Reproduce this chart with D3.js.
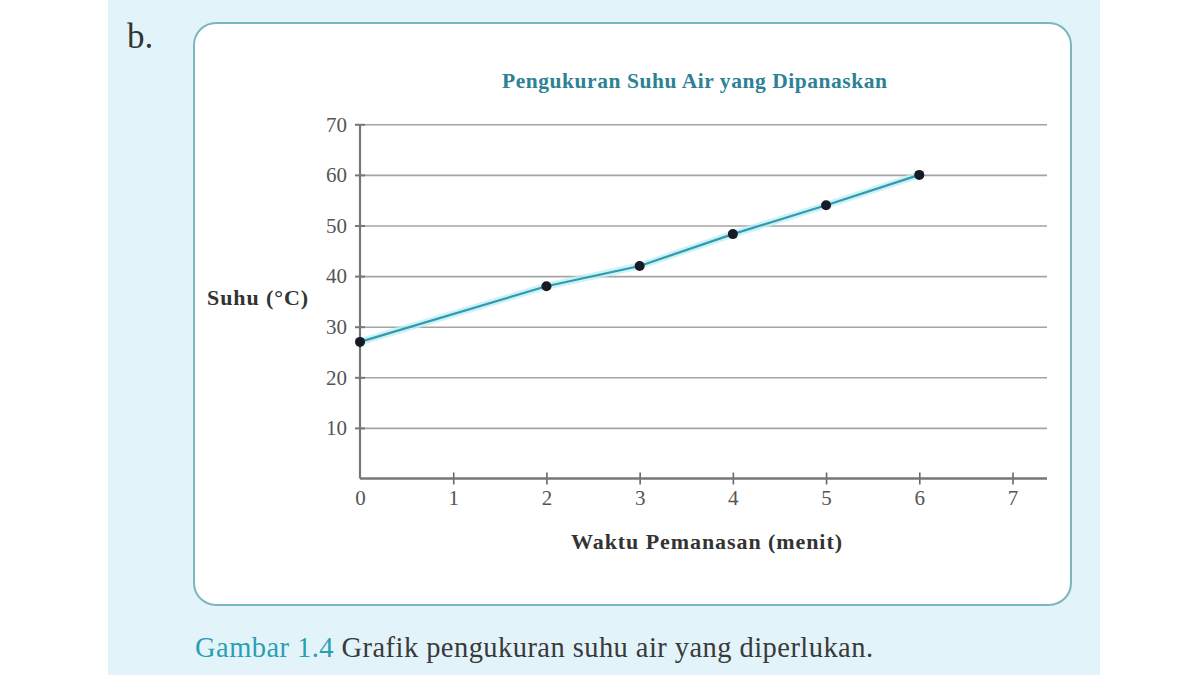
<!DOCTYPE html>
<html>
<head>
<meta charset="utf-8">
<script src="https://cdn.jsdelivr.net/npm/d3@7"></script>
<style>
  body { margin: 0; background: #fff; }
  svg { display: block; }
</style>
</head>
<body>
<svg id="chart" width="1200" height="675"></svg>
<script>
// data
const waktu = [0, 2, 3, 4, 5, 6];
const suhu = [27, 38, 42, 48.3, 54, 60];
const yTicks = [10, 20, 30, 40, 50, 60, 70];
const xTicks = [0, 1, 2, 3, 4, 5, 6, 7];

const svg = d3.select('#chart');
const serif = '"Liberation Serif", "DejaVu Serif", serif';

// page backdrop
svg.append('rect').attr('x', 108).attr('y', 0).attr('width', 992).attr('height', 675)
  .style('fill', '#e2f4fa');
svg.append('rect').attr('x', 194).attr('y', 23).attr('width', 877).attr('height', 582)
  .attr('rx', 22).attr('ry', 22)
  .style('fill', '#fff').style('stroke', '#7bb7bd').style('stroke-width', 2);

svg.append('text').attr('x', 127).attr('y', 48).text('b.')
  .style('font-family', serif).style('font-size', '35px').style('fill', '#333');

const x = d3.scaleLinear().domain([0, 7]).range([360, 1012.5]);
const y = d3.scaleLinear().domain([0, 70]).range([478.5, 124.3]);
const gridEnd = 1047;

// grid lines
svg.append('g').attr('transform', `translate(${x(0)},0)`)
  .call(d3.axisLeft(y).tickValues(yTicks).tickSize(-(gridEnd - x(0))).tickFormat(''))
  .call(g => g.select('.domain').remove())
  .call(g => g.selectAll('line').style('stroke', '#a4a4a4').style('stroke-width', 1.6));

// y axis
const yAxis = svg.append('g').attr('transform', `translate(${x(0)},0)`)
  .call(d3.axisLeft(y).tickValues(yTicks).tickFormat(d3.format('d')).tickSizeOuter(0).tickPadding(7));
yAxis.select('.domain').remove();
yAxis.selectAll('line').attr('x1', -5).attr('x2', 5).style('stroke', '#777').style('stroke-width', 2);
yAxis.selectAll('text').style('font-family', serif).style('font-size', '21px').style('fill', '#555');
svg.append('line').attr('x1', x(0)).attr('x2', x(0)).attr('y1', y(70)).attr('y2', y(0))
  .style('stroke', '#777').style('stroke-width', 2.2);

// x axis
const xAxis = svg.append('g').attr('transform', `translate(0,${y(0)})`)
  .call(d3.axisBottom(x).tickValues(xTicks).tickFormat(d3.format('d')).tickSizeOuter(0).tickPadding(6));
xAxis.select('.domain').remove();
xAxis.selectAll('line').attr('y1', -6).attr('y2', 6).style('stroke', '#666').style('stroke-width', 1.6)
  .filter(d => d === 0).remove();
xAxis.selectAll('text').style('font-family', serif).style('font-size', '21px').style('fill', '#555');
svg.append('line').attr('x1', x(0)).attr('x2', gridEnd).attr('y1', y(0)).attr('y2', y(0))
  .style('stroke', '#777').style('stroke-width', 2.5);

// data line with soft glow
const line = d3.line().x((d, i) => x(waktu[i])).y(d => y(d));
svg.append('path').datum(suhu).attr('d', line)
  .style('fill', 'none').style('stroke', '#bfeef7').style('stroke-width', 7).style('opacity', 0.8);
svg.append('path').datum(suhu).attr('d', line)
  .style('fill', 'none').style('stroke', '#2f9bab').style('stroke-width', 2.2);
svg.selectAll('circle.pt').data(suhu).join('circle').attr('class', 'pt')
  .attr('cx', (d, i) => x(waktu[i])).attr('cy', d => y(d)).attr('r', 5)
  .style('fill', '#161b26');

// titles
svg.append('text').attr('x', 502).attr('y', 88)
  .attr('textLength', 385)
  .text('Pengukuran Suhu Air yang Dipanaskan')
  .style('font-family', serif).style('font-weight', 'bold').style('font-size', '21.5px').style('fill', '#2c8294');
svg.append('text').attr('x', 207).attr('y', 305)
  .attr('textLength', 101)
  .text('Suhu (°C)')
  .style('font-family', serif).style('font-weight', 'bold').style('font-size', '22px').style('fill', '#333');
svg.append('text').attr('x', 571).attr('y', 549)
  .attr('textLength', 271)
  .text('Waktu Pemanasan (menit)')
  .style('font-family', serif).style('font-weight', 'bold').style('font-size', '22px').style('fill', '#333');

// caption
const cap = svg.append('text').attr('x', 195).attr('y', 657)
  .attr('textLength', 678)
  .style('font-family', serif).style('font-size', '28.5px');
cap.append('tspan').text('Gambar 1.4').style('fill', '#2a9fb2');
cap.append('tspan').text(' Grafik pengukuran suhu air yang diperlukan.').style('fill', '#3a3a3a');
</script>
</body>
</html>
